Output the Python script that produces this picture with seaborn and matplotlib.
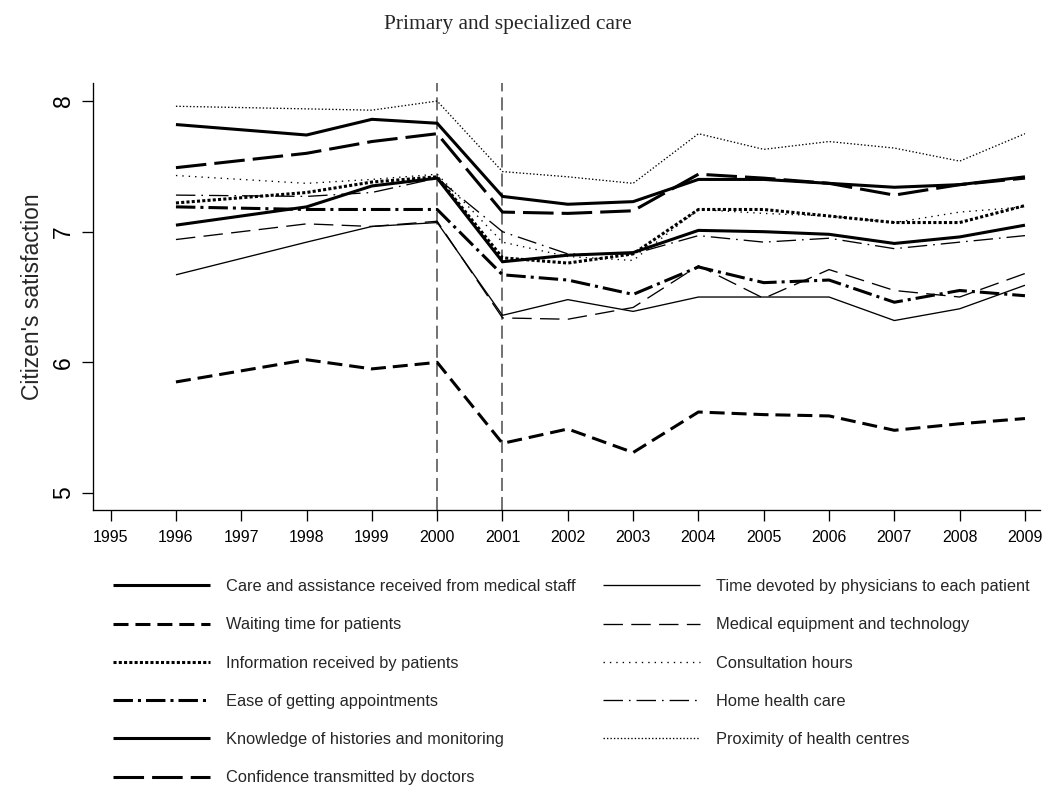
import matplotlib
matplotlib.use("Agg")
import matplotlib.pyplot as plt
from matplotlib.lines import Line2D
import seaborn as sns

# Survey years (no wave in 1997)
years = [1996, 1998, 1999, 2000, 2001, 2002, 2003, 2004, 2005, 2006, 2007, 2008, 2009]

care_assistance = [7.82, 7.74, 7.86, 7.83, 7.27, 7.21, 7.23, 7.40, 7.40, 7.37, 7.34, 7.36, 7.42]
waiting_time = [5.85, 6.02, 5.95, 6.00, 5.38, 5.49, 5.31, 5.62, 5.60, 5.59, 5.48, 5.53, 5.57]
information = [7.22, 7.30, 7.38, 7.42, 6.80, 6.76, 6.83, 7.17, 7.17, 7.12, 7.07, 7.07, 7.20]
ease_appointments = [7.19, 7.17, 7.17, 7.17, 6.67, 6.63, 6.52, 6.73, 6.61, 6.63, 6.46, 6.55, 6.51]
knowledge_histories = [7.05, 7.19, 7.35, 7.41, 6.77, 6.82, 6.84, 7.01, 7.00, 6.98, 6.91, 6.96, 7.05]
confidence_doctors = [7.49, 7.60, 7.69, 7.75, 7.15, 7.14, 7.16, 7.44, 7.41, 7.37, 7.28, 7.36, 7.41]
time_devoted = [6.67, 6.92, 7.04, 7.07, 6.36, 6.48, 6.39, 6.50, 6.50, 6.50, 6.32, 6.41, 6.59]
medical_equipment = [6.94, 7.06, 7.04, 7.08, 6.34, 6.33, 6.42, 6.74, 6.49, 6.71, 6.55, 6.50, 6.68]
consultation_hours = [7.43, 7.37, 7.40, 7.44, 6.92, 6.81, 6.78, 7.17, 7.14, 7.12, 7.07, 7.15, 7.19]
home_health_care = [7.28, 7.27, 7.30, 7.41, 7.00, 6.83, 6.83, 6.97, 6.92, 6.95, 6.87, 6.92, 6.97]
proximity_centres = [7.96, 7.94, 7.93, 8.00, 7.46, 7.42, 7.37, 7.75, 7.63, 7.69, 7.64, 7.54, 7.75]

labels = [
    "Care and assistance received from medical staff",
    "Waiting time for patients",
    "Information received by patients",
    "Ease of getting appointments",
    "Knowledge of histories and monitoring",
    "Confidence transmitted by doctors",
    "Time devoted by physicians to each patient",
    "Medical equipment and technology",
    "Consultation hours",
    "Home health care",
    "Proximity of health centres",
]
series = [care_assistance, waiting_time, information, ease_appointments,
          knowledge_histories, confidence_doctors, time_devoted,
          medical_equipment, consultation_hours, home_health_care,
          proximity_centres]

x_ticks = list(range(1995, 2010))
y_ticks = [5, 6, 7, 8]
reform_years = [2000, 2001]

THICK = 2.2
THIN = 0.95
styles = [
    dict(lw=THICK, ls="-"),
    dict(lw=THICK, ls=(0, (10.8, 5.0))),
    dict(lw=THICK, ls=(0, (2.2, 1.6))),
    dict(lw=THICK, ls=(0, (14.0, 3.6, 2.2, 3.6))),
    dict(lw=THICK, ls="-"),
    dict(lw=THICK, ls=(0, (22.0, 5.8))),
    dict(lw=THIN, ls="-"),
    dict(lw=THIN, ls=(0, (14.0, 6.0))),
    dict(lw=THIN, ls=(0, (1.0, 3.6))),
    dict(lw=THIN, ls=(0, (14.0, 4.3, 1.2, 4.3))),
    dict(lw=THIN, ls=(0, (1.0, 1.5))),
]

sns.set_style("ticks")
plt.rcParams["font.family"] = ["Liberation Sans", "DejaVu Sans"]
plt.rcParams["lines.scale_dashes"] = False

W, H = 1044, 785
fig = plt.figure(figsize=(W / 100, H / 100), dpi=100)
ax = fig.add_axes([93 / W, 1 - 510 / H, (1040 - 93) / W, (510 - 83) / H])

for vals, st in zip(series, styles):
    sns.lineplot(x=years, y=vals, ax=ax, color="black", linewidth=st["lw"],
                 linestyle=st["ls"], solid_capstyle="butt",
                 dash_capstyle="butt", solid_joinstyle="miter", legend=False)

for yr in reform_years:
    ax.axvline(yr, color="#4a4a4a", linewidth=1.1,
               linestyle=(0, (9.4, 4.3)), zorder=0)

ax.set_xlim(1994.73, 2009.23)
ax.set_ylim(4.87, 8.138)
ax.set_xticks(x_ticks)
ax.set_xticklabels([str(v) for v in x_ticks])
ax.set_yticks(y_ticks)
ax.set_yticklabels([str(v) for v in y_ticks], rotation=90, va="center")

for side in ("top", "right"):
    ax.spines[side].set_visible(False)
for side in ("left", "bottom"):
    ax.spines[side].set_linewidth(0.95)
    ax.spines[side].set_color("black")

ax.tick_params(axis="both", direction="out", length=7.9, width=0.95,
               colors="black")
ax.tick_params(axis="x", labelsize=11.5, pad=6.5)
ax.tick_params(axis="y", labelsize=16.5, pad=5.0)
ax.set_xlabel("")
ax.set_ylabel("Citizen's satisfaction", fontsize=16.5, labelpad=6)
ax.grid(False)

fig.text(508 / W, 1 - 25 / H, "Primary and specialized care",
         ha="center", va="center", fontsize=15.5,
         family=["Liberation Serif", "DejaVu Serif"])

handles = [Line2D([], [], color="black", linewidth=st["lw"], linestyle=st["ls"],
                  solid_capstyle="butt", dash_capstyle="butt")
           for st in styles]

legend_kw = dict(loc="upper left", frameon=False, fontsize=11.8,
                 handlelength=5.9, handletextpad=0.97, labelspacing=1.42,
                 borderpad=0, borderaxespad=0)
fig.legend(handles[:6], labels[:6], bbox_to_anchor=(113 / W, 1 - 579 / H),
           **legend_kw)
fig.legend(handles[6:], labels[6:], bbox_to_anchor=(603 / W, 1 - 579 / H),
           **legend_kw)

fig.savefig("out.png", dpi=100)
